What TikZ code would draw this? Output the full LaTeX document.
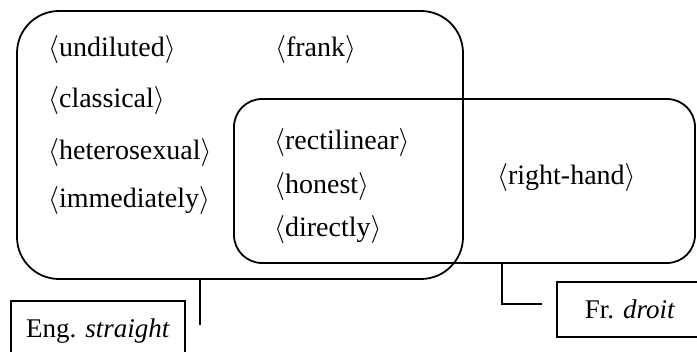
\RequirePackage{fix-cm}
\documentclass[tikz,border=0pt]{standalone}
\usepackage{fontspec}
\setmainfont{Liberation Serif}
\usepackage{tikz}

\newcommand{\sen}[1]{$\langle$#1$\rangle$}

\begin{document}
\begin{tikzpicture}[x=1pt,y=-1pt,font=\fontsize{27}{32}\selectfont,
  region/.style={draw,line width=1.8pt,rounded corners=#1},
  sense/.style={anchor=west,inner sep=0pt,font=\fontsize{28}{32}\selectfont},
  tag/.style={draw,line width=1.1pt,inner sep=0pt},
  link/.style={line width=1.2pt}]
\useasboundingbox (0,0) rectangle (697,352);
% the two sense areas
\node [region=42,minimum width=446pt,minimum height=268pt] (eng) at (240,145) {};
\node [region=28,minimum width=461pt,minimum height=164pt] (fr) at (464.5,181) {};
% English only
\node [sense] (undiluted) at (48,50) {\sen{undiluted}};
\node [sense] (classical) at (48,101) {\sen{classical}};
\node [sense] (hetero) at (48,153) {\sen{heterosexual}};
\node [sense] (immed) at (48,201) {\sen{immediately}};
\node [sense] (frank) at (275,50) {\sen{frank}};
% shared
\node [sense] (rectil) at (274,143) {\sen{rectilinear}};
\node [sense] (honest) at (274,187) {\sen{honest}};
\node [sense] (directly) at (274,230) {\sen{directly}};
% French only
\node [sense] (righthand) at (497,178) {\sen{right-hand}};
% labels
\node [tag,minimum width=174pt,minimum height=60pt] (englabel) at (98,331) {Eng. \textit{straight}};
\node [tag,minimum width=146pt,minimum height=55pt] (frlabel) at (630,309.5) {Fr. \textit{droit}};
\coordinate (engend) at (200,325);
\coordinate (frbend) at (502,304);
\coordinate (frend) at (542,304);
\draw [link] (eng.south -| engend) -- (engend);
\draw [link] (fr.south -| frbend) -- (frbend) -- (frend);
\end{tikzpicture}
\end{document}
